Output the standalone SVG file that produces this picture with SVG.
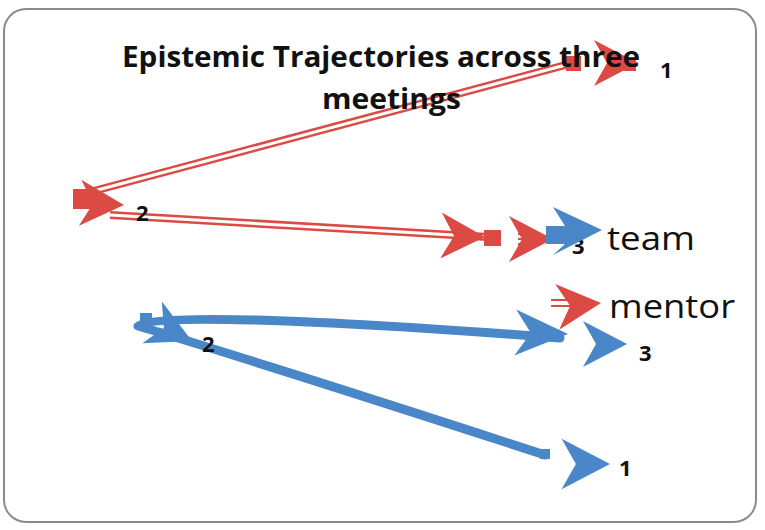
<svg xmlns="http://www.w3.org/2000/svg" width="765" height="530" viewBox="0 0 765 530">
<style>
.title{font-family:"Open Sans","Liberation Sans",sans-serif;font-weight:bold;font-size:29px;fill:#111}
.leg{font-family:"Open Sans","Liberation Sans",sans-serif;font-size:32px;fill:#111}
.lbl{font-family:"Open Sans","Liberation Sans",sans-serif;font-weight:bold;font-size:22px;fill:#111}
.red{fill:#DC4A44}
.blue{fill:#4A87C9}
.redline{fill:none;stroke:#DC4A44;stroke-width:8}
.redgap{fill:none;stroke:#fff;stroke-width:3}
.tick{fill:none;stroke:#DC4A44;stroke-width:2}
.blueline{fill:none;stroke:#4A87C9;stroke-width:9;stroke-linecap:round;stroke-linejoin:round}
</style>
<defs>
<path id="arr" d="M0,0 L-44,-23 L-31,0 L-44,23 Z"/>
</defs>
<rect x="4" y="9" width="752" height="513" rx="22" fill="#fff" stroke="#8a8a8a" stroke-width="2"/>
<g id="connectors">
<path class="redline" d="M573,63 L90,192"/>
<path class="redgap" d="M573,63 L90,192"/>
<path class="redline" d="M110,215 L488,237"/>
<path class="redgap" d="M110,215 L488,237"/>
<path class="blueline" d="M545,455 C330,385 170,335 138,326 C140,314 300,318 560,338"/>
</g>
<g id="team-series">
<rect class="red" x="566" y="56" width="15" height="15"/>
<use href="#arr" class="red" transform="translate(638,63)"/>
<rect class="red" x="618" y="58" width="18" height="13"/>
<rect class="red" x="73" y="189" width="21" height="20"/>
<use href="#arr" class="red" transform="translate(124,205) rotate(3)"/>
<use href="#arr" class="red" transform="translate(485,237) rotate(2)"/>
<rect class="red" x="484" y="230" width="17" height="16"/>
<text class="lbl" x="136" y="221">2</text>
<text class="lbl" x="660" y="78">1</text>
</g>
<g id="title">
<text class="title" x="122" y="67" textLength="518" lengthAdjust="spacingAndGlyphs">Epistemic Trajectories across three</text>
<text class="title" x="322" y="109" textLength="139" lengthAdjust="spacingAndGlyphs">meetings</text>
</g>
<g id="legend-team">
<path class="tick" d="M518,234 H532 M518,239 H532 M518,244 H532"/>
<use href="#arr" class="red" transform="translate(553,239)"/>
<text class="lbl" x="572" y="254">3</text>
<path class="blue" d="M546,226 L565,226 L553,207 L602,230 L553,255 L565,244 L546,244 Z"/>
<text class="leg" x="607" y="250" textLength="88" lengthAdjust="spacingAndGlyphs">team</text>
</g>
<g id="legend-mentor">
<path class="tick" d="M551,300 H576 M551,306 H576"/>
<use href="#arr" class="red" transform="translate(601,303) rotate(-5)"/>
<text class="leg" x="609" y="318" textLength="126" lengthAdjust="spacingAndGlyphs">mentor</text>
</g>
<g id="mentor-series">
<use href="#arr" class="blue" transform="translate(192,341) rotate(25)"/>
<rect class="blue" x="140" y="313" width="12" height="12"/>
<use href="#arr" class="blue" transform="translate(568,334) scale(1.2,1) rotate(2)"/>
<use href="#arr" class="blue" transform="translate(627,344)"/>
<use href="#arr" class="blue" transform="translate(610,464) scale(1.1)"/>
<rect class="blue" x="540" y="449" width="10" height="10"/>
<text class="lbl" x="202" y="352">2</text>
<text class="lbl" x="639" y="361">3</text>
<text class="lbl" x="619" y="476">1</text>
</g>
</svg>
